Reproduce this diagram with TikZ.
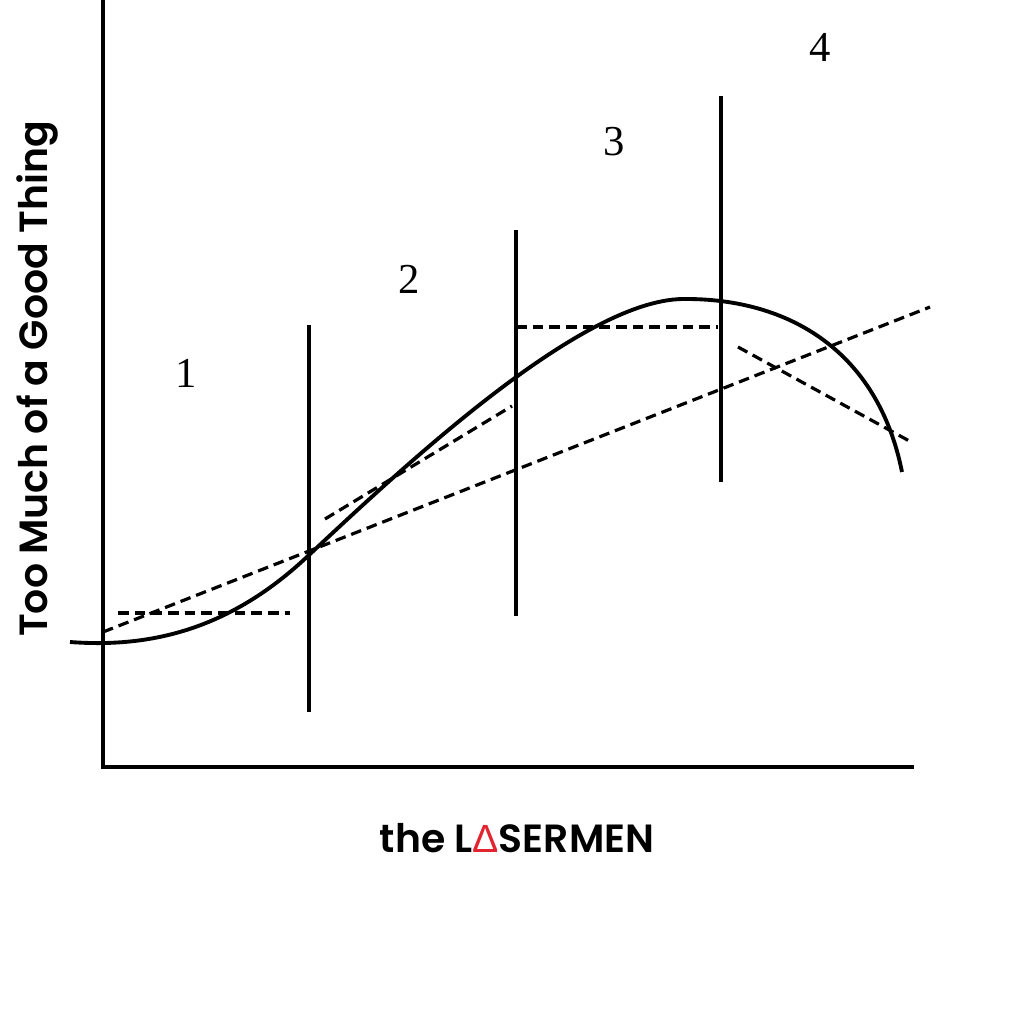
\documentclass[tikz,border=0pt]{standalone}
\usepackage{fontspec}
\usepackage{xcolor}
\usepackage{tikz}
\setmainfont{Liberation Serif}
\newfontfamily\titlefont{Poppins SemiBold}
\newfontfamily\deltafont{Liberation Sans}
\definecolor{lasred}{RGB}{226, 36, 48}

\begin{document}
\begin{tikzpicture}[x=0.75pt,y=0.75pt,yscale=-1,xscale=1,
  axis/.style={line width=2.8pt, line cap=rect},
  divider/.style={line width=2.6pt},
  curve/.style={line width=2.9pt},
  guide/.style={line width=2.4pt, dash pattern={on 8pt off 4.5pt}},
  zone/.style={inner sep=0.75pt, font=\fontsize{32}{32}\selectfont},
  title/.style={inner sep=0.75pt, font=\titlefont\fontsize{29.5}{29.5}\selectfont}]
\useasboundingbox (0,0) rectangle (1024,1024);

%Axes
\coordinate (top) at (103,0);
\coordinate (origin) at (103,767);
\coordinate (right) at (912,767);
\draw [axis] (top) -- (origin) -- (right) ;

%Vertical dividers
\draw [divider] (309,325) -- (309,712) ;
\draw [divider] (516,230) -- (516,616) ;
\draw [divider] (721,96) -- (721,482) ;

%Curve Lines
\draw [curve] (70,642) .. controls (150,648) and (230,630) .. (309,555)
  .. controls (400,470) and (580,300) .. (683,299)
  .. controls (790,298) and (878,352) .. (902,472) ;

%Dashed Lines
\draw [guide] (118,613) -- (290,613) ;
\draw [guide] (103,632) -- (930,307) ;
\draw [guide] (325,519) -- (512,406) ;
\draw [guide] (516,327) -- (718,327) ;
\draw [guide] (738,347) -- (913,443) ;

% Text Node
\draw (186,373) node [zone] (one) {1};
% Text Node
\draw (409,279) node [zone] (two) {2};
% Text Node
\draw (614,142) node [zone] (three) {3};
% Text Node
\draw (820,47) node [zone] (four) {4};
% Text Node
\draw (37,379) node [title, rotate=90] (ylabel) {Too Much of a Good Thing};
% Text Node
\draw (517,838) node [title] (xlabel) {the L\textcolor{lasred}{\deltafont Δ}SERMEN};

\end{tikzpicture}
\end{document}
